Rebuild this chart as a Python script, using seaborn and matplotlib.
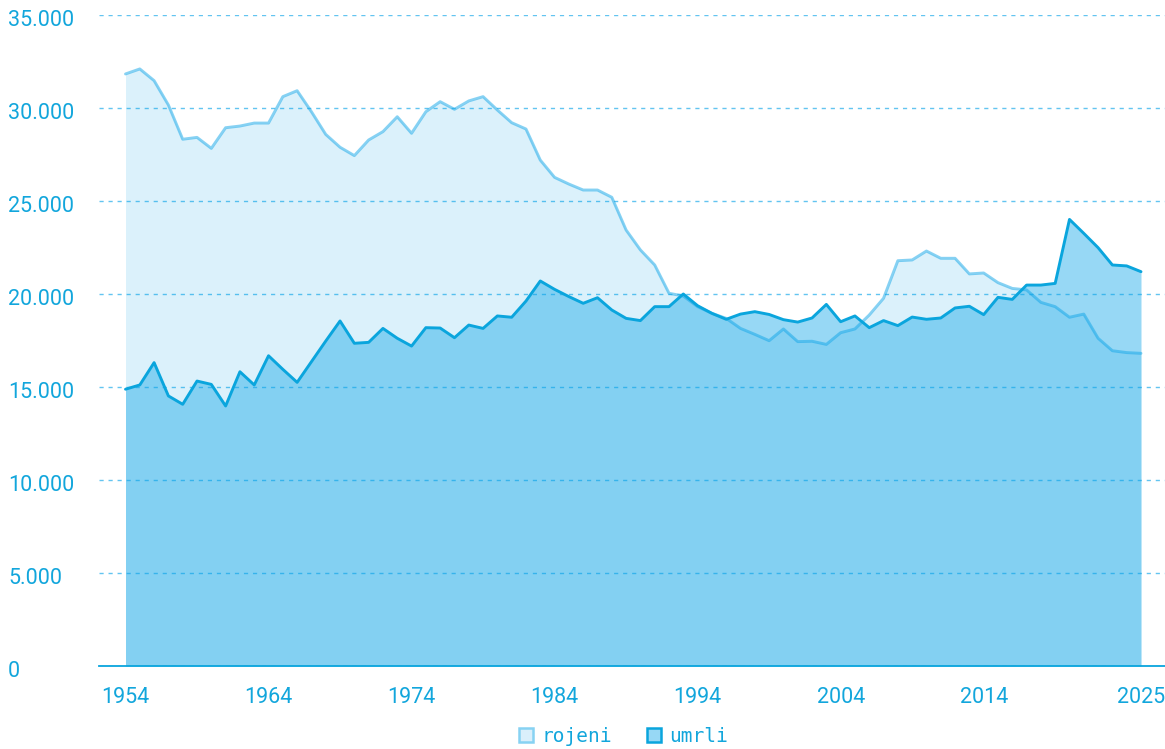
import matplotlib
matplotlib.use("Agg")
import matplotlib.pyplot as plt
import matplotlib.transforms as mtransforms
from matplotlib.patches import Patch
from matplotlib.ticker import FuncFormatter
import seaborn as sns
import pandas as pd

years = list(range(1954, 2026))
rojeni = [31830, 32100, 31470, 30160, 28320, 28420, 27830, 28940, 29030, 29190,
          29190, 30610, 30930, 29800, 28580, 27890, 27440, 28280, 28730, 29530,
          28640, 29800, 30340, 29930, 30380, 30610, 29890, 29210, 28870, 27200,
          26270, 25910, 25590, 25590, 25200, 23440, 22370, 21560, 20040, 19890,
          19320, 18960, 18690, 18150, 17830, 17490, 18120, 17440, 17460, 17290,
          17920, 18120, 18870, 19770, 21790, 21830, 22310, 21920, 21920, 21080,
          21130, 20610, 20300, 20220, 19550, 19320, 18750, 18920, 17620, 16950,
          16850, 16810]
umrli = [14880, 15110, 16310, 14520, 14070, 15320, 15140, 13980, 15820, 15110,
         16680, 15950, 15250, 16360, 17470, 18550, 17350, 17400, 18150, 17620,
         17200, 18190, 18170, 17650, 18330, 18150, 18820, 18750, 19620, 20700,
         20250, 19860, 19500, 19800, 19140, 18690, 18570, 19320, 19320, 20000,
         19370, 18960, 18640, 18920, 19050, 18900, 18620, 18490, 18710, 19440,
         18510, 18820, 18190, 18570, 18300, 18760, 18640, 18710, 19250, 19340,
         18890, 19820, 19710, 20480, 20480, 20570, 24010, 23260, 22490, 21560,
         21510, 21200]
series_names = ["rojeni", "umrli"]
x_ticks = [1954, 1964, 1974, 1984, 1994, 2004, 2014, 2025]
y_ticks = [0, 5000, 10000, 15000, 20000, 25000, 30000, 35000]

df = pd.DataFrame({"leto": years, "rojeni": rojeni, "umrli": umrli})

base = (15/255, 165/255, 232/255)
line_umrli = "#0aa5dd"
text_col = "#12a6dc"
roj_fill = (218/255, 239/255, 251/255)
roj_line = (135/255, 210/255, 243/255)
umr_leg_fill = (151/255, 216/255, 245/255)

sns.set_style("white")
plt.rcParams["font.family"] = ["Roboto", "DejaVu Sans"]

fig = plt.figure(figsize=(11.65, 7.49), dpi=100)
ax = fig.add_axes([99/1165, 83/749, 1 - 99/1165, (666-15)/749])

# rojeni
ax.fill_between(df["leto"], 0, df["rojeni"], color=base, alpha=0.15, linewidth=0, zorder=1)
sns.lineplot(data=df, x="leto", y="rojeni", ax=ax, color=base, alpha=0.5, linewidth=2.1, zorder=2)
# umrli
ax.fill_between(df["leto"], 0, df["umrli"], color=base, alpha=0.43, linewidth=0, zorder=3)
sns.lineplot(data=df, x="leto", y="umrli", ax=ax, color=line_umrli, linewidth=2.1, zorder=4)

ax.set_xlim(1954 - 26.5/14.303, 2025 + 24/14.303)
ax.set_ylim(0, 35000)
ax.set_xticks(x_ticks)
ax.set_yticks(y_ticks)
ax.yaxis.set_major_formatter(FuncFormatter(lambda v, p: "0" if v == 0 else f"{int(v):,}".replace(",", ".")))
ax.set_xlabel("")
ax.set_ylabel("")

for s in ["top", "right", "left"]:
    ax.spines[s].set_visible(False)
ax.spines["bottom"].set_color(line_umrli)
ax.spines["bottom"].set_linewidth(1.3)
ax.spines["bottom"].set_zorder(6)

ax.set_axisbelow(False)
ax.yaxis.grid(True, color=base, alpha=0.65, linewidth=1.0, linestyle=(0, (3, 3.5)), zorder=5)
ax.xaxis.grid(False)

ax.tick_params(axis="both", length=0, labelsize=15.5, labelcolor=text_col)
ax.tick_params(axis="y", pad=91*0.72)
ax.tick_params(axis="x", pad=15)
shift = mtransforms.ScaledTranslation(0, -3/100, fig.dpi_scale_trans)
for lbl in ax.get_yticklabels():
    lbl.set_horizontalalignment("left")
    lbl.set_verticalalignment("center_baseline")
    lbl.set_transform(lbl.get_transform() + shift)

handles = [Patch(facecolor=roj_fill, edgecolor=roj_line, linewidth=1.8),
           Patch(facecolor=umr_leg_fill, edgecolor=line_umrli, linewidth=1.8)]
leg = fig.legend(handles, series_names, loc="lower center", bbox_to_anchor=(0.535, -0.019),
                 ncol=2, frameon=False, handlelength=0.75, handleheight=0.75,
                 handletextpad=0.4, columnspacing=1.8,
                 prop={"family": ["DejaVu Sans Mono"], "size": 14})
for t in leg.get_texts():
    t.set_color(text_col)

fig.savefig("out.png", dpi=100)
